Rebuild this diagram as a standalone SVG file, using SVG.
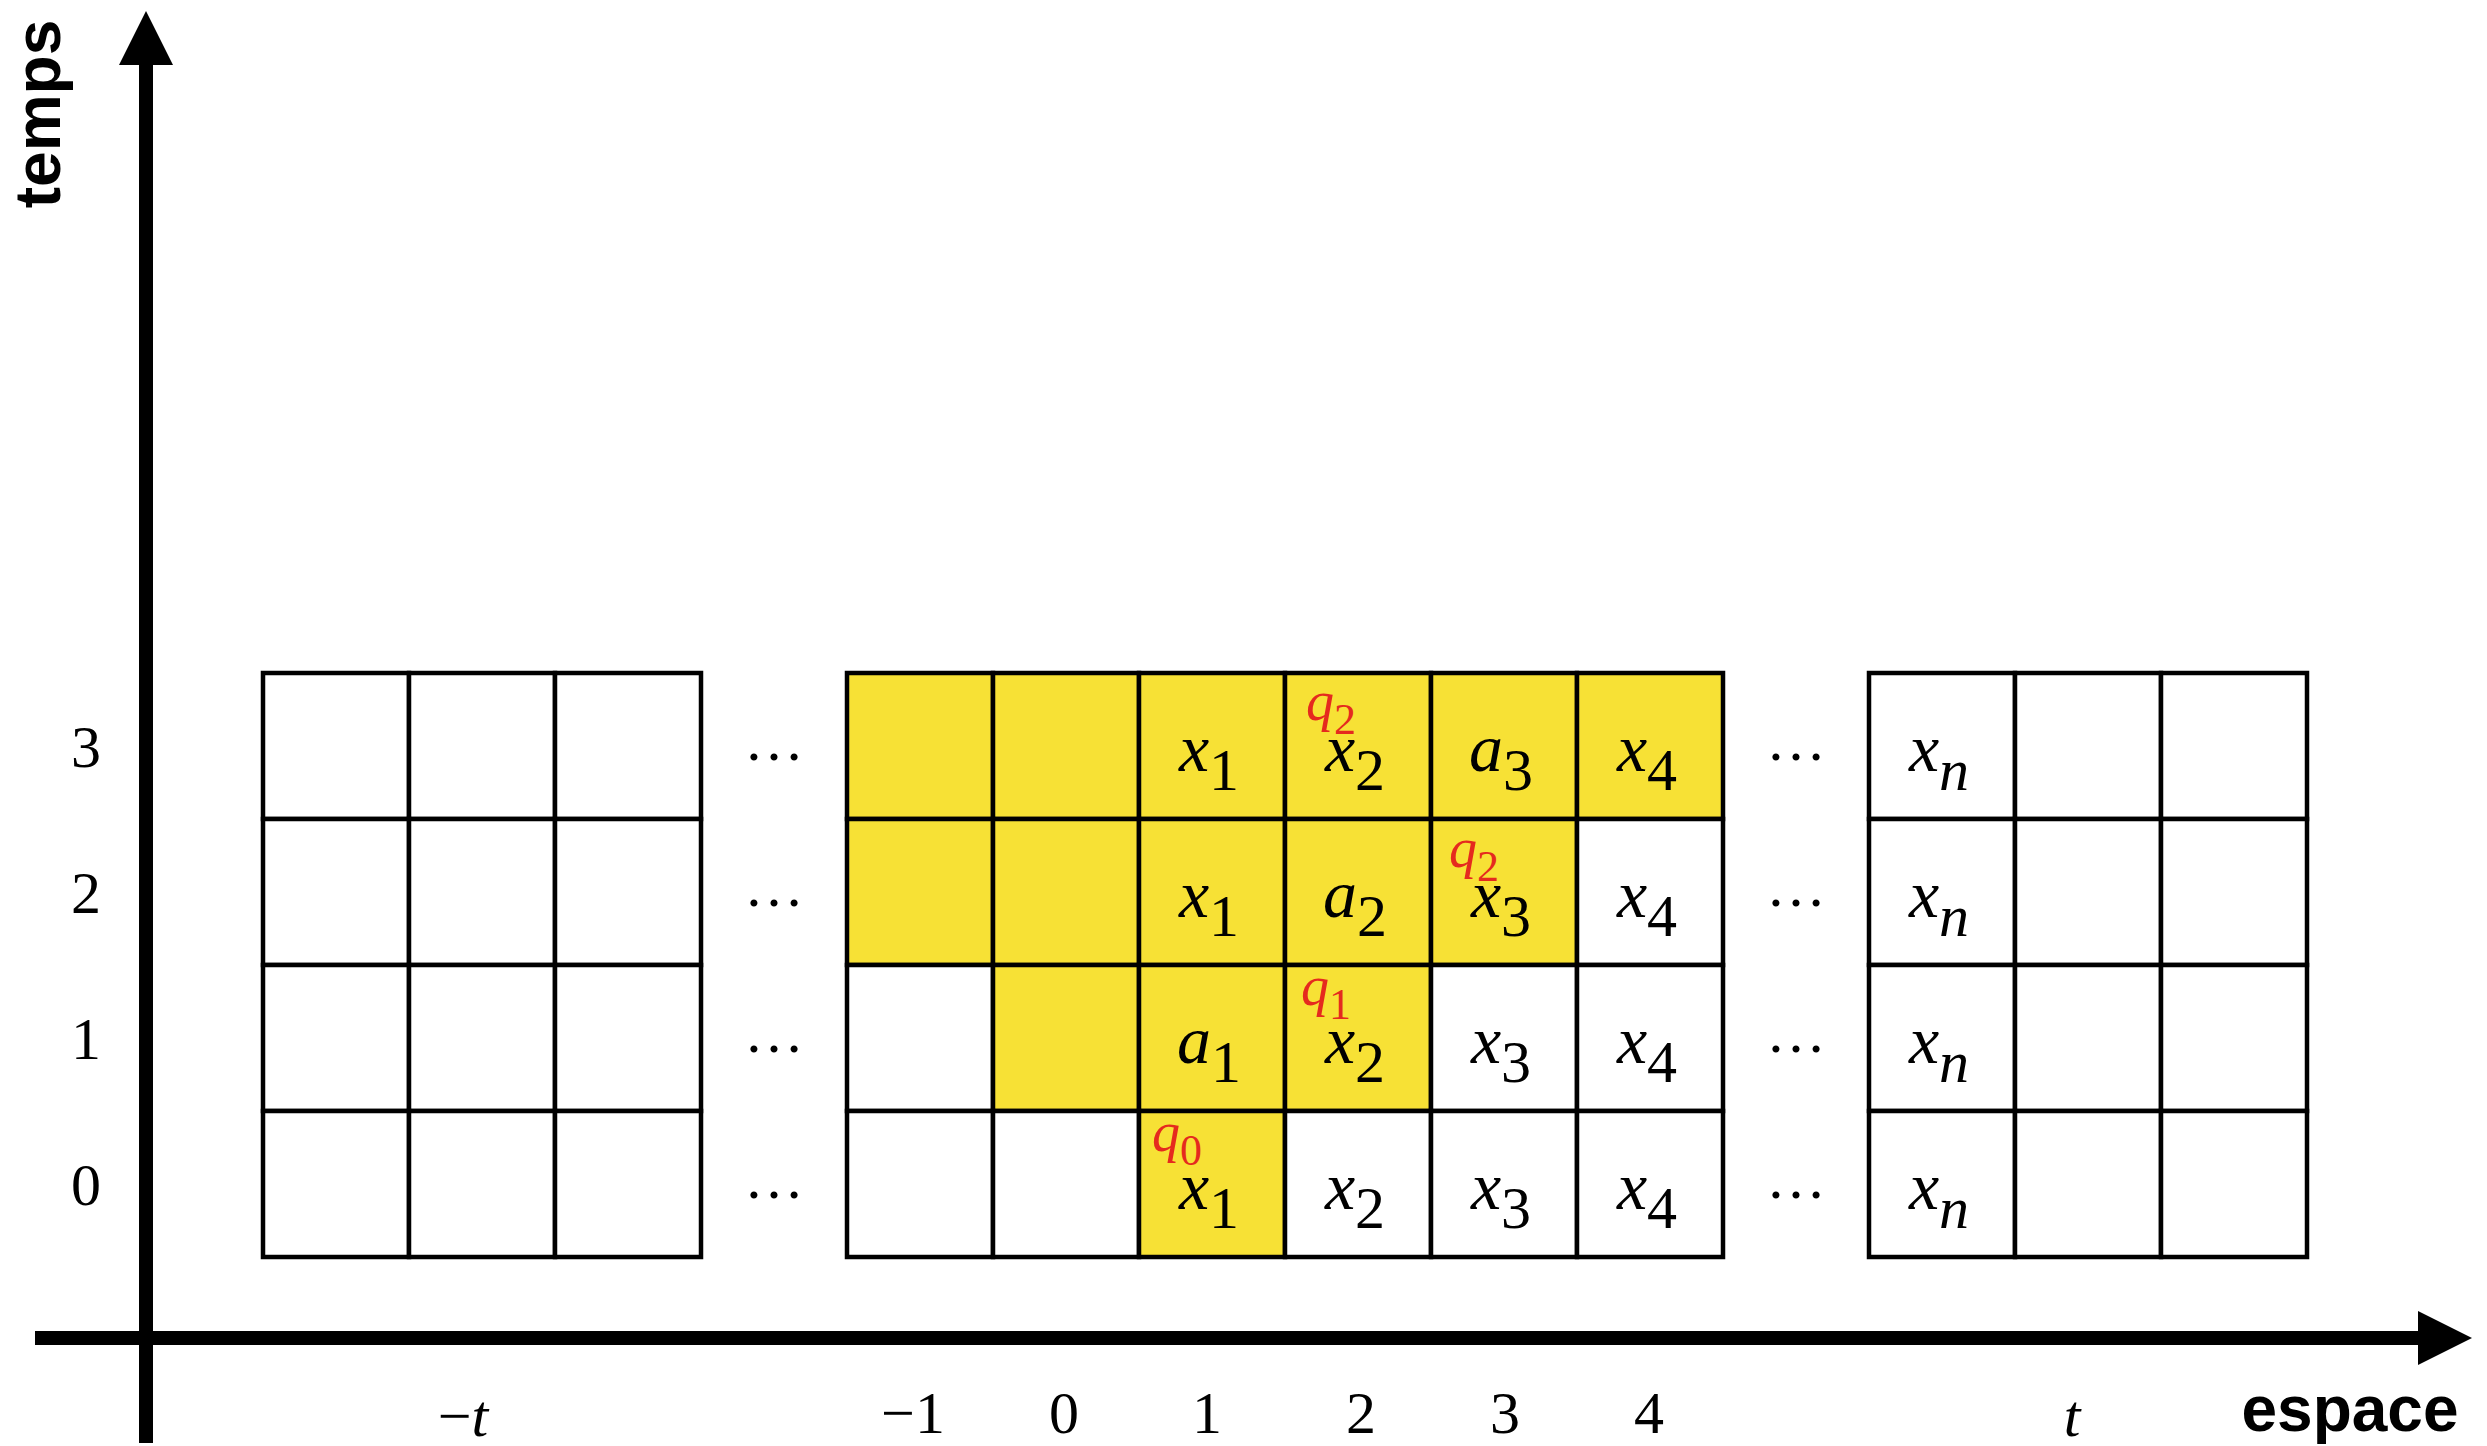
<svg xmlns="http://www.w3.org/2000/svg" width="2487" height="1446" viewBox="0 0 2487 1446">
<defs>
<style>
.c{fill:#ffffff;stroke:#000;stroke-width:4.5}
.y{fill:#F7E135;stroke:#000;stroke-width:4.5}
.v{font-family:"Liberation Serif","Times New Roman",serif;font-style:italic;font-size:68px;fill:#000;text-anchor:middle}
.v tspan{font-style:normal;font-size:60px}
.v tspan.i{font-style:italic}
.q{font-family:"Liberation Serif","Times New Roman",serif;font-style:italic;font-size:56px;fill:#E52A1E}
.q tspan{font-style:normal;font-size:44px}
.n{font-family:"Liberation Serif","Times New Roman",serif;font-size:60px;fill:#000;text-anchor:middle}
.it{font-style:italic}
.ax{stroke:#000;stroke-width:14;fill:none}
.lab{font-family:"Liberation Sans",Arial,sans-serif;font-weight:bold;font-size:64px;fill:#000;text-anchor:middle}
</style>
<marker id="arr" viewBox="0 0 54 54" markerWidth="54" markerHeight="54" markerUnits="userSpaceOnUse" refX="2" refY="27" orient="auto">
<path d="M0,0 L54,27 L0,54 z" fill="#000"/>
</marker>
</defs>
<rect width="2487" height="1446" fill="#fff"/>

<g id="connectors">
<line class="ax" x1="146" y1="1443" x2="146" y2="63" marker-end="url(#arr)"/>
<line class="ax" x1="35" y1="1338" x2="2420" y2="1338" marker-end="url(#arr)"/>
</g>

<g id="grid-left">
<rect class="c" x="263" y="673" width="146" height="146"/><rect class="c" x="409" y="673" width="146" height="146"/><rect class="c" x="555" y="673" width="146" height="146"/>
<rect class="c" x="263" y="819" width="146" height="146"/><rect class="c" x="409" y="819" width="146" height="146"/><rect class="c" x="555" y="819" width="146" height="146"/>
<rect class="c" x="263" y="965" width="146" height="146"/><rect class="c" x="409" y="965" width="146" height="146"/><rect class="c" x="555" y="965" width="146" height="146"/>
<rect class="c" x="263" y="1111" width="146" height="146"/><rect class="c" x="409" y="1111" width="146" height="146"/><rect class="c" x="555" y="1111" width="146" height="146"/>
</g>

<g id="grid-middle">
<rect class="y" x="847" y="673" width="146" height="146"/><rect class="y" x="993" y="673" width="146" height="146"/><rect class="y" x="1139" y="673" width="146" height="146"/><rect class="y" x="1285" y="673" width="146" height="146"/><rect class="y" x="1431" y="673" width="146" height="146"/><rect class="y" x="1577" y="673" width="146" height="146"/>
<rect class="y" x="847" y="819" width="146" height="146"/><rect class="y" x="993" y="819" width="146" height="146"/><rect class="y" x="1139" y="819" width="146" height="146"/><rect class="y" x="1285" y="819" width="146" height="146"/><rect class="y" x="1431" y="819" width="146" height="146"/><rect class="c" x="1577" y="819" width="146" height="146"/>
<rect class="c" x="847" y="965" width="146" height="146"/><rect class="y" x="993" y="965" width="146" height="146"/><rect class="y" x="1139" y="965" width="146" height="146"/><rect class="y" x="1285" y="965" width="146" height="146"/><rect class="c" x="1431" y="965" width="146" height="146"/><rect class="c" x="1577" y="965" width="146" height="146"/>
<rect class="c" x="847" y="1111" width="146" height="146"/><rect class="c" x="993" y="1111" width="146" height="146"/><rect class="y" x="1139" y="1111" width="146" height="146"/><rect class="c" x="1285" y="1111" width="146" height="146"/><rect class="c" x="1431" y="1111" width="146" height="146"/><rect class="c" x="1577" y="1111" width="146" height="146"/>

<text class="v" x="1209" y="771">x<tspan dy="19">1</tspan></text>
<text class="v" x="1355" y="771">x<tspan dy="19">2</tspan></text>
<text class="v" x="1501" y="771">a<tspan dy="19">3</tspan></text>
<text class="v" x="1647" y="771">x<tspan dy="19">4</tspan></text>

<text class="v" x="1209" y="917">x<tspan dy="19">1</tspan></text>
<text class="v" x="1355" y="917">a<tspan dy="19">2</tspan></text>
<text class="v" x="1501" y="917">x<tspan dy="19">3</tspan></text>
<text class="v" x="1647" y="917">x<tspan dy="19">4</tspan></text>

<text class="v" x="1209" y="1063">a<tspan dy="19">1</tspan></text>
<text class="v" x="1355" y="1063">x<tspan dy="19">2</tspan></text>
<text class="v" x="1501" y="1063">x<tspan dy="19">3</tspan></text>
<text class="v" x="1647" y="1063">x<tspan dy="19">4</tspan></text>

<text class="v" x="1209" y="1209">x<tspan dy="19">1</tspan></text>
<text class="v" x="1355" y="1209">x<tspan dy="19">2</tspan></text>
<text class="v" x="1501" y="1209">x<tspan dy="19">3</tspan></text>
<text class="v" x="1647" y="1209">x<tspan dy="19">4</tspan></text>

<text class="q" x="1306" y="720">q<tspan dy="14">2</tspan></text>
<text class="q" x="1449" y="867">q<tspan dy="14">2</tspan></text>
<text class="q" x="1301" y="1005">q<tspan dy="14">1</tspan></text>
<text class="q" x="1152" y="1151">q<tspan dy="14">0</tspan></text>
</g>

<g id="grid-right">
<rect class="c" x="1869" y="673" width="146" height="146"/><rect class="c" x="2015" y="673" width="146" height="146"/><rect class="c" x="2161" y="673" width="146" height="146"/>
<rect class="c" x="1869" y="819" width="146" height="146"/><rect class="c" x="2015" y="819" width="146" height="146"/><rect class="c" x="2161" y="819" width="146" height="146"/>
<rect class="c" x="1869" y="965" width="146" height="146"/><rect class="c" x="2015" y="965" width="146" height="146"/><rect class="c" x="2161" y="965" width="146" height="146"/>
<rect class="c" x="1869" y="1111" width="146" height="146"/><rect class="c" x="2015" y="1111" width="146" height="146"/><rect class="c" x="2161" y="1111" width="146" height="146"/>
<text class="v" x="1939" y="771">x<tspan class="i" dy="19">n</tspan></text>
<text class="v" x="1939" y="917">x<tspan class="i" dy="19">n</tspan></text>
<text class="v" x="1939" y="1063">x<tspan class="i" dy="19">n</tspan></text>
<text class="v" x="1939" y="1209">x<tspan class="i" dy="19">n</tspan></text>
</g>

<g id="ellipses">
<text class="n" x="774" y="760">…</text>
<text class="n" x="774" y="906">…</text>
<text class="n" x="774" y="1052">…</text>
<text class="n" x="774" y="1198">…</text>
<text class="n" x="1796" y="760">…</text>
<text class="n" x="1796" y="906">…</text>
<text class="n" x="1796" y="1052">…</text>
<text class="n" x="1796" y="1198">…</text>
</g>

<g id="time-labels">
<text class="n" x="86" y="767">3</text>
<text class="n" x="86" y="913">2</text>
<text class="n" x="86" y="1059">1</text>
<text class="n" x="86" y="1205">0</text>
<text class="lab" transform="translate(60,114) rotate(-90)">temps</text>
</g>

<g id="space-labels">
<text class="n" x="463" y="1436">−<tspan class="it">t</tspan></text>
<text class="n" x="913" y="1433">−1</text>
<text class="n" x="1064" y="1433">0</text>
<text class="n" x="1207" y="1433">1</text>
<text class="n" x="1361" y="1433">2</text>
<text class="n" x="1505" y="1433">3</text>
<text class="n" x="1649" y="1433">4</text>
<text class="n it" x="2072" y="1436">t</text>
<text class="lab" x="2350" y="1431">espace</text>
</g>
</svg>
